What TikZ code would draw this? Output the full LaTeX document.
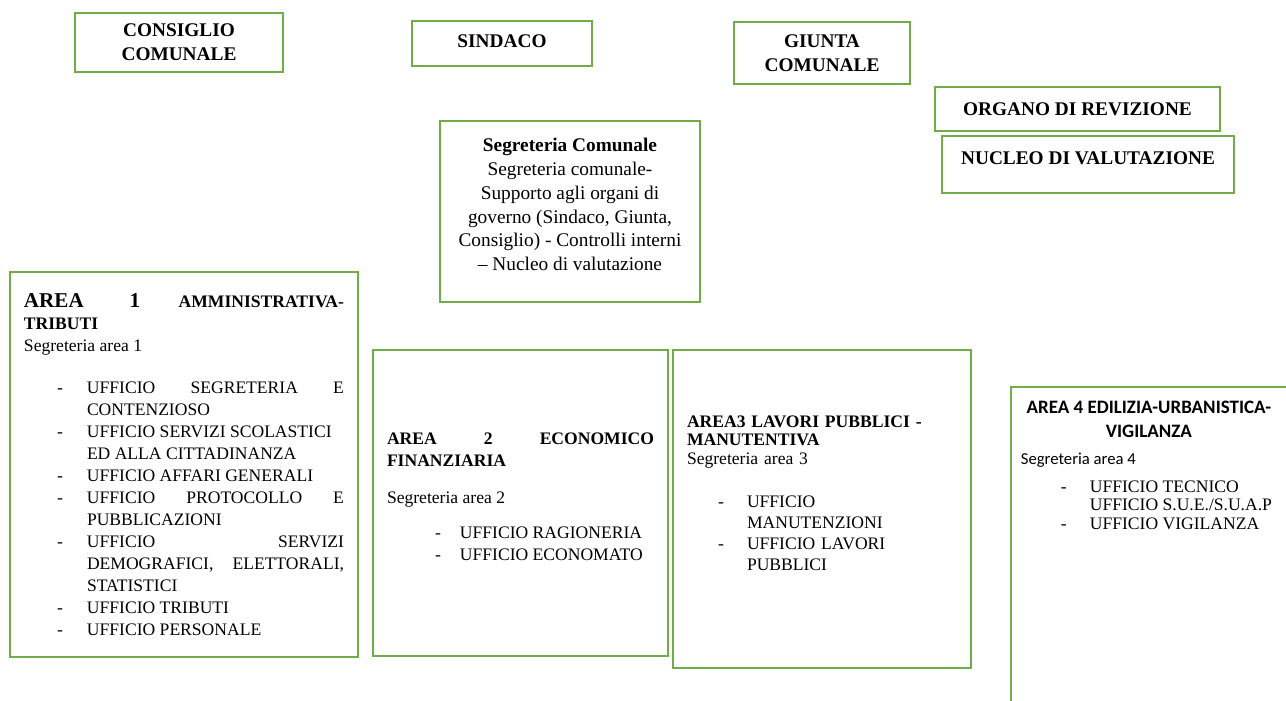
\documentclass[tikz,border=0pt]{standalone}
\usepackage{fontspec}
\setmainfont{Liberation Serif}
\newfontfamily\calibri{Carlito}
\definecolor{verde}{RGB}{112,173,71}
\hyphenpenalty=10000
\hbadness=10000
\newlength\vocedash
\newlength\vocegap
\newcommand{\voce}[1]{\par\noindent\hangindent=\dimexpr\vocedash+\vocegap\relax\hangafter=1\hspace*{\vocedash}\makebox[\vocegap][l]{-}#1}
\tikzset{
	casella/.style={draw=verde,line width=1pt},
	organo/.style={casella,font=\fontsize{11}{13.6}\selectfont\bfseries,align=center,inner sep=0pt},
	area/.style={casella,align=justify,inner xsep=0.28cm,inner ysep=0.2cm,font=\fontsize{10}{12.5}\selectfont},
	rientro/.style 2 args={execute at begin node={\setlength\vocedash{#1}\setlength\vocegap{#2}}}
}
\begin{document}
\begin{tikzpicture}
	\clip (0,0) rectangle (25.72,-14);
	\node[organo,minimum width=4.16cm,minimum height=1.18cm] (consiglio) at (3.58,-0.85) {CONSIGLIO\\COMUNALE};
	\node[organo,minimum width=3.6cm,minimum height=0.9cm] (sindaco) at (10.04,-0.87) {SINDACO\\[-11pt]~};
	\node[organo,minimum width=3.52cm,minimum height=1.24cm] (giunta) at (16.44,-1.06) {GIUNTA\\COMUNALE};
	\node[organo,minimum width=5.7cm,minimum height=0.88cm] (revisione) at (21.55,-2.18) {ORGANO DI REVIZIONE};
	\node[organo,minimum width=5.84cm,minimum height=1.14cm] (nucleo) at (21.76,-3.29) {NUCLEO DI VALUTAZIONE\\[-6pt]~};
	\node[casella,minimum width=5.2cm,minimum height=3.62cm,align=center,inner sep=0pt,font=\fontsize{11}{13.5}\selectfont] (segreteria) at (11.4,-4.23)
	{\textbf{Segreteria Comunale}\\Segreteria comunale-\\Supporto agli organi di\\governo (Sindaco, Giunta,\\Consiglio) - Controlli interni\\-- Nucleo di valutazione\\[-5.5pt]~};
	\node[area,rientro={0.66cm}{0.6cm},text width=6.4cm,minimum height=7.7cm] (area1) at (3.68,-9.29) {
		{\bfseries{\fontsize{12}{14}\selectfont AREA 1} {\fontsize{10}{12.5}\selectfont AMMINISTRATIVA-}\linebreak TRIBUTI}\par
		Segreteria area 1\par
		\vspace{0.4cm}
		\voce{UFFICIO SEGRETERIA E\linebreak CONTENZIOSO}
		\voce{UFFICIO SERVIZI SCOLASTICI\newline ED ALLA CITTADINANZA}
		\voce{UFFICIO AFFARI GENERALI}
		\voce{UFFICIO PROTOCOLLO E\linebreak PUBBLICAZIONI}
		\voce{UFFICIO SERVIZI\linebreak DEMOGRAFICI, ELETTORALI,\linebreak STATISTICI}
		\voce{UFFICIO TRIBUTI}
		\voce{UFFICIO PERSONALE}};
	\node[area,rientro={0.96cm}{0.5cm},text width=5.34cm,minimum height=6.12cm] (area2) at (10.41,-10.06) {
		{\bfseries AREA 2 ECONOMICO\linebreak FINANZIARIA}\par
		\vspace{0.3cm}
		Segreteria area 2\par
		\vspace{0.26cm}
		\voce{UFFICIO RAGIONERIA}
		\voce{UFFICIO ECONOMATO}
		\par\vspace{-0.2cm}\noindent\mbox{}};
	\node[area,align=left,rientro={0.62cm}{0.58cm},text width=5.4cm,minimum height=6.36cm,font=\fontsize{10}{10.5}\selectfont] (area3) at (16.44,-10.18) {
		{\bfseries AREA3 LAVORI PUBBLICI -\\MANUTENTIVA}\par
		Segreteria area 3\par
		\vspace{0.45cm}\fontsize{10}{12}\selectfont
		\voce{UFFICIO\newline MANUTENZIONI}
		\voce{UFFICIO LAVORI\newline PUBBLICI}
		\par\vspace{0.26cm}\noindent\mbox{}};
	\node[area,anchor=north west,inner xsep=0.2cm,inner ysep=0.28cm,rientro={0.8cm}{0.58cm},text width=5.12cm,font=\fontsize{10}{10.5}\selectfont] (area4) at (20.2,-7.72) {
		{\centering\calibri\bfseries\fontsize{10.8}{14}\selectfont AREA 4 EDILIZIA-URBANISTICA-\\VIGILANZA\par}
		\vspace{0.1cm}
		{\calibri\fontsize{9.5}{12}\selectfont Segreteria area 4\par}
		\vspace{0.2cm}
		\voce{UFFICIO TECNICO\newline UFFICIO S.U.E./S.U.A.P}
		\voce{UFFICIO VIGILANZA}
		\par\vspace{4cm}\noindent\mbox{}};
\end{tikzpicture}
\end{document}
